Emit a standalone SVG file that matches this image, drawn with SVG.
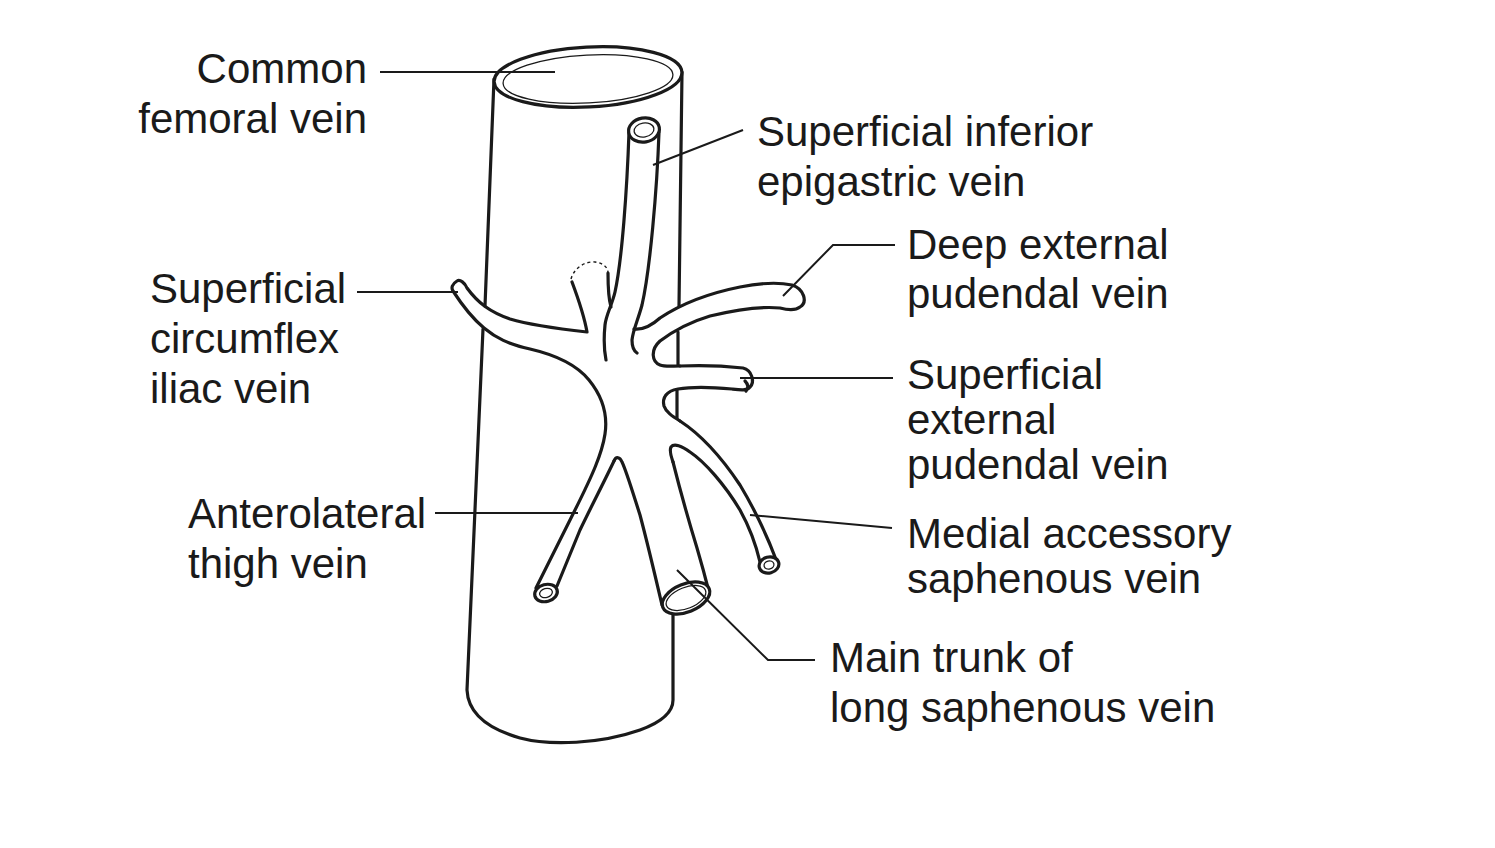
<svg xmlns="http://www.w3.org/2000/svg" width="1495" height="848" viewBox="0 0 1495 848">
<style>
.o{fill:none;stroke:#1a1a1a;stroke-width:3.2;stroke-linecap:round;stroke-linejoin:round}
.w{fill:#fff;stroke:#1a1a1a;stroke-width:3.2}
.t{fill:none;stroke:#1a1a1a;stroke-width:1.3}
.d{fill:none;stroke:#1a1a1a;stroke-width:1.4;stroke-dasharray:3 3}
.l{fill:none;stroke:#1a1a1a;stroke-width:2}
text{font-family:"Liberation Sans",Arial,Helvetica,sans-serif;font-size:42px;fill:#1a1a1a}
</style>
<rect width="1495" height="848" fill="#fff"/>
<g id="common-femoral-vein">
<path class="o" d="M494,79 L485,306"/>
<path class="o" d="M483,329 L467,690 C468,712 485,728 520,738 C550,746 600,744 640,730 C662,722 673,712 673,700 L673,606"/>
<path class="o" d="M682,72 L679,306"/>
<path class="o" d="M678,332 L678,365"/>
<path class="o" d="M677,390 L677,418"/>
<ellipse class="w" cx="588" cy="77" rx="94" ry="30" transform="rotate(-3 588 77)"/>
<ellipse class="t" cx="588" cy="79" rx="85" ry="24" transform="rotate(-3 588 79)"/>
</g>
<g id="superficial-circumflex-iliac-vein">
<path class="o" d="M572,282 C578,298 584,315 587,332 C560,329 530,325 510,319 C490,312 478,303 467,288 C465,283 460,279 457,281 C452,284 451,288 453,291 C462,305 472,318 484,328 C496,338 508,344 530,349 C556,355 576,364 589,380 C602,396 608,414 605,434 C602,454 592,476 575,510 L536,588"/>
<path class="d" d="M571,279 C574,268 585,261 595,262 C603,263 608,267 608,273"/>
<path class="o" d="M608,273 C608,285 608,297 611,307"/>
</g>
<g id="superficial-inferior-epigastric-vein">
<path class="o" d="M629,132 C627,190 622,260 615,292 C612,305 606,315 605,325 C604,335 604,350 606,360"/>
<path class="o" d="M659,132 C657,190 650,270 642,305 C638,320 633,330 632,340 C632,347 634,351 637,353"/>
<ellipse class="w" cx="644" cy="130" rx="15.5" ry="12" transform="rotate(-10 644 130)"/>
<ellipse class="t" cx="644" cy="130" rx="10" ry="7" transform="rotate(-10 644 130)"/>
</g>
<g id="deep-external-pudendal-vein">
<path class="o" d="M634,329 C642,330 650,327 660,318 C675,308 700,295 740,287 C760,283 778,282 792,285 C804,289 808,302 800,307 C795,311 788,310 780,308 C760,306 735,310 710,316 C690,322 672,332 660,341 C650,350 652,362 660,365 C665,367 672,366 680,366"/>
</g>
<g id="superficial-external-pudendal-vein">
<path class="o" d="M680,366 C700,365 725,366 743,368 C752,370 755,382 750,387 C747,391 740,390 732,389 C710,387 690,387 678,389 C666,391 662,398 664,406 C666,412 672,416 680,421"/>
<path class="o" d="M745,381 C748,384 749,388 746,391"/>
</g>
<g id="medial-accessory-saphenous-vein">
<path class="o" d="M680,421 C700,434 720,455 740,485 C755,510 768,538 777,562"/>
<path class="o" d="M760,562 C756,545 750,528 740,510 C725,485 705,462 690,452 C682,446 674,443 671,447 C669,451 671,456 673,462"/>
<ellipse class="w" cx="769" cy="565" rx="10" ry="8" transform="rotate(-15 769 565)"/>
<ellipse class="t" cx="769" cy="565" rx="5" ry="4" transform="rotate(-15 769 565)"/>
</g>
<g id="long-saphenous-vein">
<path class="o" d="M673,462 C680,490 690,525 697,548 C702,565 706,580 709,592"/>
<path class="o" d="M662,605 C655,575 648,545 640,515 C632,490 626,470 622,462 C620,457 616,456 614,461"/>
<ellipse class="w" cx="686" cy="598" rx="25" ry="14" transform="rotate(-22 686 598)"/>
<ellipse class="t" cx="686" cy="598" rx="21" ry="10.5" transform="rotate(-22 686 598)"/>
</g>
<g id="anterolateral-thigh-vein">
<path class="o" d="M614,461 C605,480 592,505 580,530 L557,586"/>
<ellipse class="w" cx="546" cy="593" rx="11.5" ry="8.5" transform="rotate(-15 546 593)"/>
<ellipse class="t" cx="546" cy="593" rx="6.5" ry="4.5" transform="rotate(-15 546 593)"/>
</g>
<g id="connectors">
<path class="l" d="M380,72 L555,72"/>
<path class="l" d="M653,165 L743,130"/>
<path class="l" d="M783,296 L833,245 L895,245"/>
<path class="l" d="M740,378 L893,378"/>
<path class="l" d="M750,515 L892,528"/>
<path class="l" d="M677,570 L768,660 L815,660"/>
<path class="l" d="M435,513 L578,513"/>
<path class="l" d="M357,292 L458,292"/>
</g>
<g id="labels">
<text x="367" y="83" text-anchor="end">Common</text>
<text x="367" y="133" text-anchor="end">femoral vein</text>
<text x="757" y="146">Superficial inferior</text>
<text x="757" y="196">epigastric vein</text>
<text x="907" y="259">Deep external</text>
<text x="907" y="308">pudendal vein</text>
<text x="907" y="389">Superficial</text>
<text x="907" y="434">external</text>
<text x="907" y="479">pudendal vein</text>
<text x="907" y="548">Medial accessory</text>
<text x="907" y="593">saphenous vein</text>
<text x="830" y="672">Main trunk of</text>
<text x="830" y="722">long saphenous vein</text>
<text x="150" y="303">Superficial</text>
<text x="150" y="353">circumflex</text>
<text x="150" y="403">iliac vein</text>
<text x="188" y="528">Anterolateral</text>
<text x="188" y="578">thigh vein</text>
</g>
</svg>
